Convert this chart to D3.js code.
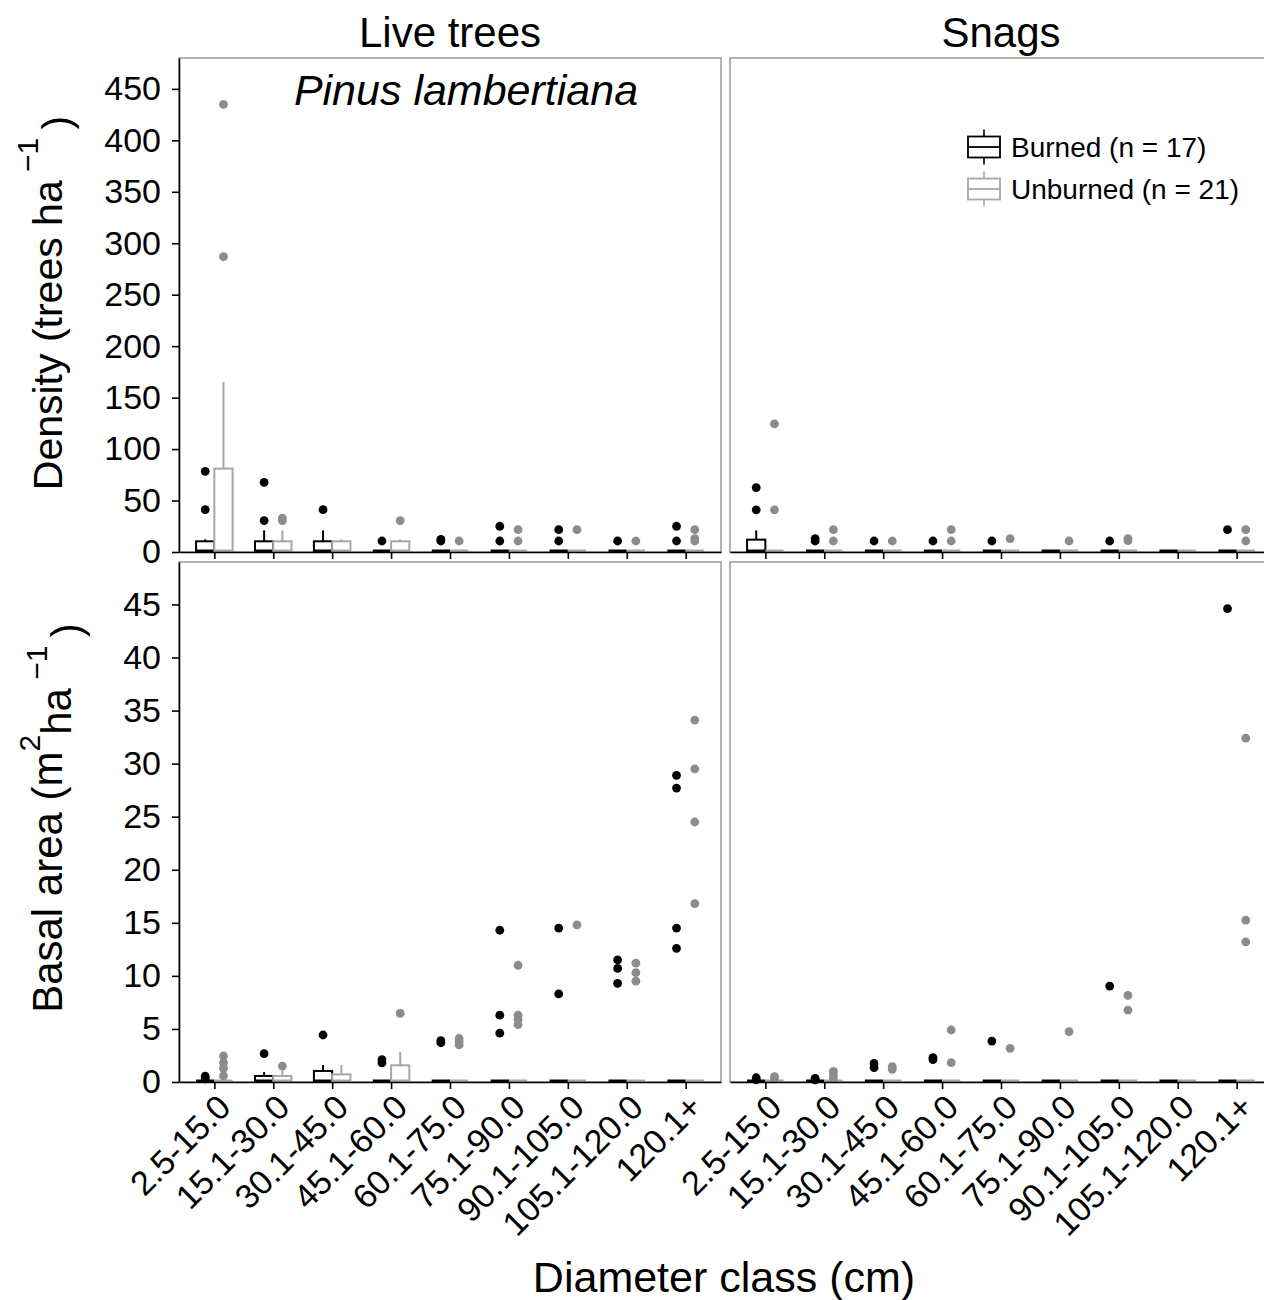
<!DOCTYPE html>
<html>
<head>
<meta charset="utf-8">
<script src="https://cdn.jsdelivr.net/npm/d3@7"></script>
<style>
  html, body { margin: 0; padding: 0; background: #fff; }
  svg { display: block; font-family: "Liberation Sans", Arial, sans-serif; }
</style>
</head>
<body>
<svg id="chart" width="1264" height="1300"></svg>
<script>
// ---------------- DATA ----------------
const categories = ["2.5-15.0", "15.1-30.0", "30.1-45.0", "45.1-60.0", "60.1-75.0",
                    "75.1-90.0", "90.1-105.0", "105.1-120.0", "120.1+"];
const columnTitles = ["Live trees", "Snags"];
const groupNames = ["Burned (n = 17)", "Unburned (n = 21)"];
const densityTicks = [0, 50, 100, 150, 200, 250, 300, 350, 400, 450];
const basalTicks = [0, 5, 10, 15, 20, 25, 30, 35, 40, 45];

// lower hinge and median are 0 in every box of this figure
const zeroStat = [0, 0, 0, 0, 0, 0, 0, 0, 0];

// Live trees – density (trees/ha)
const liveDensBurnedQ3    = [10.4, 10.4, 10.4, 0, 0, 0, 0, 0, 0];
const liveDensBurnedUpper = [12.3, 21, 21, 0, 0, 0, 0, 0, 0];
const liveDensBurnedOut   = [[78.4, 41.1], [67.7, 30.5], [41.1], [10.7], [12.3, 10.7],
                             [25, 10.7], [21.7, 10.7], [10.7], [25, 10.7]];
const liveDensUnburnedQ3    = [81, 10.4, 10.4, 10.4, 0, 0, 0, 0, 0];
const liveDensUnburnedUpper = [165, 21, 12.3, 12.3, 0, 0, 0, 0, 0];
const liveDensUnburnedOut   = [[435, 287], [33, 30.5], [], [30.5], [10.7],
                               [21.7, 10.7], [21.7], [10.7], [21.7, 13, 10.7]];

// Snags – density (trees/ha)
const snagDensBurnedQ3    = [12, 0, 0, 0, 0, 0, 0, 0, 0];
const snagDensBurnedUpper = [21, 0, 0, 0, 0, 0, 0, 0, 0];
const snagDensBurnedOut   = [[62.5, 41], [13, 10.7], [10.7], [10.7], [10.7],
                             [], [10.7], [], [21.7]];
const snagDensUnburnedQ3    = [0, 0, 0, 0, 0, 0, 0, 0, 0];
const snagDensUnburnedUpper = [0, 0, 0, 0, 0, 0, 0, 0, 0];
const snagDensUnburnedOut   = [[124.4, 41], [21.7, 10.7], [10.7], [21.7, 10.7], [13],
                               [10.7], [13, 11], [], [21.7, 10.7]];

// Live trees – basal area (m2/ha)
const liveBABurnedQ3    = [0, 0.57, 1.04, 0, 0, 0, 0, 0, 0];
const liveBABurnedUpper = [0, 0.94, 1.6, 0, 0, 0, 0, 0, 0];
const liveBABurnedOut   = [[0.55, 0.3], [2.67], [4.43], [2.1, 1.8], [3.9, 3.7],
                           [14.3, 6.3, 4.6], [14.5, 8.3], [11.5, 10.7, 9.3],
                           [28.9, 27.7, 14.5, 12.6]];
const liveBAUnburnedQ3    = [0, 0.57, 0.72, 1.57, 0, 0, 0, 0, 0];
const liveBAUnburnedUpper = [0, 1.1, 1.6, 2.82, 0, 0, 0, 0, 0];
const liveBAUnburnedOut   = [[2.45, 1.82, 1.29, 0.57], [1.5], [], [6.47], [4.1, 3.8, 3.5],
                             [11.0, 6.3, 5.9, 5.4], [14.8], [11.2, 10.3, 9.5],
                             [34.1, 29.5, 24.5, 16.8]];

// Snags – basal area (m2/ha)
const snagBABurnedQ3    = [0, 0, 0, 0, 0, 0, 0, 0, 0];
const snagBABurnedUpper = [0, 0, 0, 0, 0, 0, 0, 0, 0];
const snagBABurnedOut   = [[0.4, 0.2], [0.35, 0.2], [1.75, 1.35], [2.3, 2.1], [3.86],
                           [], [9.04], [], [44.6]];
const snagBAUnburnedQ3    = [0, 0, 0, 0, 0, 0, 0, 0, 0];
const snagBAUnburnedUpper = [0, 0, 0, 0, 0, 0, 0, 0, 0];
const snagBAUnburnedOut   = [[0.5, 0.3], [1.0, 0.6, 0.3], [1.45, 1.2], [4.9, 1.82], [3.17],
                             [4.74], [8.16, 6.78], [], [32.4, 15.25, 13.2]];

// ---------------- LAYOUT ----------------
const svg = d3.select("#chart");
svg.append("rect").attr("width", 1264).attr("height", 1300).attr("fill", "#fff");

const colX = [[179, 721], [730, 1272]];
const rowY = [[58, 552], [562, 1082]];
const rowDomain = [[0, 480], [0, 49]];
const rowTicks = [densityTicks, basalTicks];

const burnedColor = "#000000";
const unburnedBox = "#a6a6a6";
const unburnedPt = "#8c8c8c";

const panels = [
  {r: 0, c: 0, groups: [
    {q1: zeroStat, med: zeroStat, q3: liveDensBurnedQ3, up: liveDensBurnedUpper, out: liveDensBurnedOut},
    {q1: zeroStat, med: zeroStat, q3: liveDensUnburnedQ3, up: liveDensUnburnedUpper, out: liveDensUnburnedOut}]},
  {r: 0, c: 1, groups: [
    {q1: zeroStat, med: zeroStat, q3: snagDensBurnedQ3, up: snagDensBurnedUpper, out: snagDensBurnedOut},
    {q1: zeroStat, med: zeroStat, q3: snagDensUnburnedQ3, up: snagDensUnburnedUpper, out: snagDensUnburnedOut}]},
  {r: 1, c: 0, groups: [
    {q1: zeroStat, med: zeroStat, q3: liveBABurnedQ3, up: liveBABurnedUpper, out: liveBABurnedOut},
    {q1: zeroStat, med: zeroStat, q3: liveBAUnburnedQ3, up: liveBAUnburnedUpper, out: liveBAUnburnedOut}]},
  {r: 1, c: 1, groups: [
    {q1: zeroStat, med: zeroStat, q3: snagBABurnedQ3, up: snagBABurnedUpper, out: snagBABurnedOut},
    {q1: zeroStat, med: zeroStat, q3: snagBAUnburnedQ3, up: snagBAUnburnedUpper, out: snagBAUnburnedOut}]}
];

panels.forEach(p => {
  const [x0, x1] = colX[p.c];
  const [y0, y1] = rowY[p.r];
  const x = d3.scalePoint().domain(categories).range([x0, x1]).padding(0.6);
  const y = d3.scaleLinear().domain(rowDomain[p.r]).range([y1, y0]);
  const step = x.step();
  const offs = [-0.155 * step, 0.155 * step];
  const bw = 0.31 * step;

  const g = svg.append("g");
  // frame
  g.append("rect").attr("x", x0).attr("y", y0).attr("width", x1 - x0).attr("height", y1 - y0)
    .attr("fill", "none").attr("stroke", "#8a8a8a").attr("stroke-width", 1.3);

  // boxes
  p.groups.forEach((grp, gi) => {
    const col = gi === 0 ? burnedColor : unburnedBox;
    categories.forEach((cat, i) => {
      const cx = x(cat) + offs[gi];
      if (grp.up[i] > grp.q3[i]) {
        g.append("line").attr("x1", cx).attr("x2", cx)
          .attr("y1", y(grp.q3[i])).attr("y2", y(grp.up[i]))
          .attr("stroke", col).attr("stroke-width", 2);
      }
      if (grp.q3[i] > grp.q1[i]) {
        g.append("rect").attr("x", cx - bw / 2).attr("width", bw)
          .attr("y", y(grp.q3[i])).attr("height", y(grp.q1[i]) - y(grp.q3[i]))
          .attr("fill", "#fff").attr("stroke", col).attr("stroke-width", 2);
      }
      g.append("line").attr("x1", cx - bw / 2).attr("x2", cx + bw / 2)
        .attr("y1", y(grp.med[i]) - 1).attr("y2", y(grp.med[i]) - 1)
        .attr("stroke", col).attr("stroke-width", 3);
    });
  });
  // outlier points
  p.groups.forEach((grp, gi) => {
    const col = gi === 0 ? burnedColor : unburnedPt;
    categories.forEach((cat, i) => {
      const cx = x(cat) + offs[gi];
      grp.out[i].forEach(v => {
        g.append("circle").attr("cx", cx).attr("cy", y(v)).attr("r", 4.4).attr("fill", col);
      });
    });
  });

  // bottom axis
  const xa = g.append("g").attr("transform", `translate(0,${y1})`)
    .call(d3.axisBottom(x).tickSize(7).tickSizeOuter(0).tickFormat(""));
  xa.select(".domain").attr("stroke", "#000").attr("stroke-width", 1.6);
  xa.selectAll(".tick line").attr("stroke", "#000").attr("stroke-width", 1.6);

  if (p.r === 1) {
    categories.forEach(cat => {
      svg.append("text")
        .attr("transform", `translate(${x(cat) + 1},${y1 + 10}) rotate(-45)`)
        .attr("text-anchor", "end").attr("dy", "0.72em")
        .attr("font-size", 34).attr("fill", "#000").text(cat);
    });
  }
  if (p.c === 0) {
    const ya = g.append("g").attr("transform", `translate(${x0},0)`)
      .call(d3.axisLeft(y).tickValues(rowTicks[p.r]).tickSize(7).tickSizeOuter(0));
    ya.select(".domain").attr("stroke", "#000").attr("stroke-width", 1.6);
    ya.selectAll(".tick line").attr("stroke", "#000").attr("stroke-width", 1.6);
    ya.selectAll(".tick text").attr("font-size", 34).attr("fill", "#000")
      .attr("font-family", "Liberation Sans, Arial, sans-serif").attr("x", -18);
  }
  if (p.r === 0) {
    svg.append("text").attr("x", (x0 + x1) / 2).attr("y", 47)
      .attr("text-anchor", "middle").attr("font-size", 42).text(columnTitles[p.c]);
  }
});

// species label
svg.append("text").attr("x", 466).attr("y", 105).attr("text-anchor", "middle")
  .attr("font-size", 43).attr("font-style", "italic").text("Pinus lambertiana");

// y axis titles
const t1 = svg.append("text").attr("transform", "translate(62,303) rotate(-90)")
  .attr("text-anchor", "middle").attr("font-size", 41);
t1.append("tspan").text("Density (trees ha");
t1.append("tspan").attr("dy", "-0.8em").attr("font-size", 30).text(" \u22121 ");
t1.append("tspan").attr("dy", "0.8em").text(")");

const t2 = svg.append("text").attr("transform", "translate(62,818) rotate(-90)")
  .attr("text-anchor", "middle").attr("font-size", 42);
t2.append("tspan").text("Basal area (m");
t2.append("tspan").attr("dy", "-0.75em").attr("font-size", 30).text("2");
t2.append("tspan").attr("dy", "0.75em").text("ha");
t2.append("tspan").attr("dy", "-0.8em").attr("font-size", 30).text(" \u22121 ");
t2.append("tspan").attr("dy", "0.8em").text(")");

// x axis title
svg.append("text").attr("x", 724).attr("y", 1292).attr("text-anchor", "middle")
  .attr("font-size", 43).text("Diameter class (cm)");

// legend
const leg = svg.append("g");
[0, 1].forEach(i => {
  const cy = 147 + i * 42;
  const col = i === 0 ? burnedColor : unburnedBox;
  const kx = 968, kw = 32, kh = 21;
  leg.append("line").attr("x1", kx + kw / 2).attr("x2", kx + kw / 2)
    .attr("y1", cy - kh / 2 - 7).attr("y2", cy + kh / 2 + 7).attr("stroke", col).attr("stroke-width", 1.6);
  leg.append("rect").attr("x", kx).attr("y", cy - kh / 2).attr("width", kw).attr("height", kh)
    .attr("fill", "#fff").attr("stroke", col).attr("stroke-width", 1.8);
  leg.append("line").attr("x1", kx).attr("x2", kx + kw).attr("y1", cy).attr("y2", cy)
    .attr("stroke", col).attr("stroke-width", 1.8);
  leg.append("text").attr("x", 1011).attr("y", cy + 10).attr("font-size", 28).text(groupNames[i]);
});
</script>
</body>
</html>
